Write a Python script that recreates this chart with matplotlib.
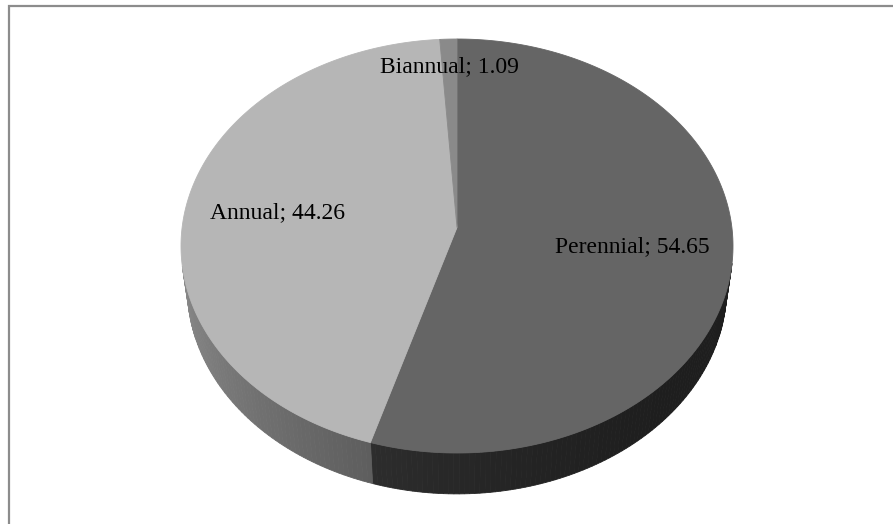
import numpy as np
import matplotlib.pyplot as plt
from matplotlib.patches import Polygon

labels = ['Perennial', 'Annual', 'Biannual']
values = [54.65, 44.26, 1.09]

top_colors = ['#656565', '#b6b6b6', '#8a8a8a']
side_gray = [50, 104, 70]          # side wall base level (0-255) per slice
label_radius = [0.64, 0.66, 0.84]  # where each label sits, fraction of radius

# simple pinhole camera looking down on the pie
elev = np.radians(48)
dist = 7.5
depth = 0.235
ce, se = np.cos(elev), np.sin(elev)

# pixel box the top face is fitted into
box_left, box_right = 181, 733
box_top, box_front = 39, 453


def project_raw(x, y, z):
    yc = se * y + ce * z
    zc = ce * y + dist - se * z
    return x / zc, yc / zc


ring = np.linspace(0, 2 * np.pi, 721)
u0, v0 = project_raw(np.sin(ring), np.cos(ring), 0 * ring)
umin, umax, vmin, vmax = u0.min(), u0.max(), v0.min(), v0.max()


def project(x, y, z):
    u, v = project_raw(x, y, z)
    px = box_left + (u - umin) / (umax - umin) * (box_right - box_left)
    py = box_top + (vmax - v) / (vmax - vmin) * (box_front - box_top)
    return px, py


def gray(level):
    level = int(np.clip(level, 0, 255))
    return '#{0:02x}{0:02x}{0:02x}'.format(level)


fig = plt.figure(figsize=(8.93, 5.24), dpi=100)
ax = fig.add_axes([0, 0, 1, 1])
ax.set_xlim(0, 893)
ax.set_ylim(524, 0)
ax.axis('off')

# chart area border (only top and left edges fall inside the image)
ax.plot([8.5, 8.5, 893], [524, 5.5, 5.5], color='#8c8c8c', lw=1.6,
        solid_joinstyle='miter')

fracs = np.array(values) / sum(values)
bounds = np.concatenate([[0], np.cumsum(fracs)]) * 2 * np.pi

# side walls, lit from the back-left
for i in range(len(values)):
    th = np.linspace(bounds[i], bounds[i + 1], max(int(np.degrees(bounds[i + 1] - bounds[i])), 2))
    for a, b in zip(th[:-1], th[1:]):
        m = (a + b) / 2
        if np.cos(m) > -1 / (dist * ce) + 0.02:
            continue
        tx, ty = project(np.sin([a, b]), np.cos([a, b]), np.zeros(2))
        bx, by = project(np.sin([b, a]), np.cos([b, a]), -depth * np.ones(2))
        shade = side_gray[i] * (1 + 0.4 * np.cos(m - np.radians(300)))
        c = gray(shade)
        ax.add_patch(Polygon(np.column_stack([np.r_[tx, bx], np.r_[ty, by]]),
                             closed=True, fc=c, ec=c, lw=0.6))

# top face slices
cx, cy = project(0, 0, 0)
for i in range(len(values)):
    th = np.linspace(bounds[i], bounds[i + 1], 200)
    ax_, ay_ = project(np.sin(th), np.cos(th), 0 * th)
    pts = np.column_stack([np.r_[cx, ax_], np.r_[cy, ay_]])
    ax.add_patch(Polygon(pts, closed=True, fc=top_colors[i], ec=top_colors[i], lw=0.6))

# data labels
for i in range(len(values)):
    m = (bounds[i] + bounds[i + 1]) / 2
    r = label_radius[i]
    lx, ly = project(r * np.sin(m), r * np.cos(m), 0)
    ax.text(lx, ly, f'{labels[i]}; {values[i]}', ha='center', va='center',
            fontsize=17, family='Liberation Serif', color='black')

fig.savefig('out.png', dpi=100)
